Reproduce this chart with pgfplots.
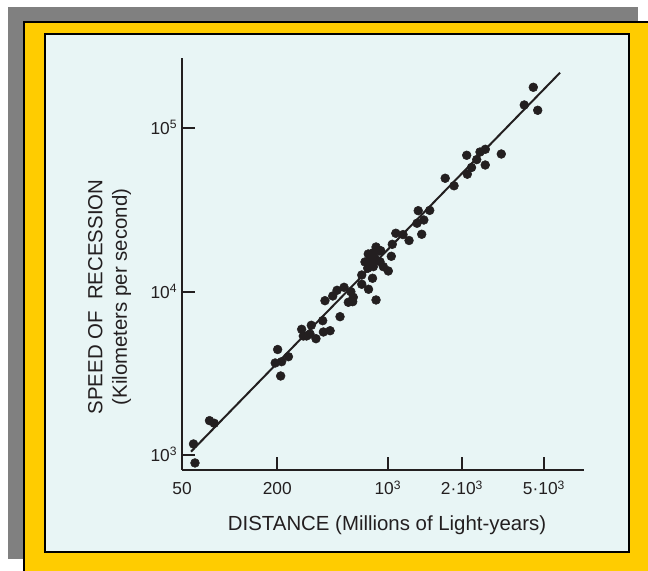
\documentclass[border=0pt]{standalone}
\usepackage{fontspec}
\setmainfont{Liberation Sans}
\usepackage{pgfplots}
\usepackage{pgfplotstable}
\pgfplotsset{compat=1.18}

\definecolor{framegray}{HTML}{808080}
\definecolor{frameyellow}{HTML}{FFCC00}
\definecolor{panelcyan}{HTML}{E8F5F5}
\definecolor{ink}{HTML}{231F20}

% distance (millions of light-years), speed (km/s)
\pgfplotstableread{
dist speed
8283 178650
7265 139250
8831 129190
3144 68570
5200 69820
4121 74600
3815 71820
3637 64520
3372 57730
3172 52530
4116 59800
2299 49610
2615 44620
1553 31420
1836 31560
1685 27560
1526 26320
1634 22540
1121 22860
1245 22440
1359 20650
1065 19570
1050 16530
1005 13440
751 17080
808 17400
882 17820
770 15690
828 16070
891 15320
745 13960
808 14280
935 14280
790 14980
841 18840
716 15260
900 17890
799 12130
683 12700
683 11150
754 10390
841 8935
528 10680
477 10240
448 9452
583 10040
604 9281
562 8650
599 8724
400 8846
498 7063
387 6675
328 6255
285 5912
391 5691
431 5796
292 5380
322 5533
351 5180
306 5380
201 4447
213 3747
194 3679
235 4019
210 3063
74.6 1633
79.9 1574
59.1 1176
60.4 900
}\hubble

\begin{document}
\begin{tikzpicture}
% frames, in pixels of the reference, origin moved to the axis corner
\begin{scope}[x=0.75pt,y=-0.75pt,shift={(-182,-470)}]
  \fill[framegray] (8,7) rectangle (638,559);
  \filldraw[fill=frameyellow,draw=black,line width=1.5pt] (24,22) rectangle (670,600);
  \filldraw[fill=panelcyan,draw=black,line width=1.5pt] (45,34) rectangle (629,552);
\end{scope}

\begin{axis}[
    at={(0,0)}, anchor=south west,
    scale only axis, width=301.5pt, height=309pt,
    xmode=log, ymode=log,
    xmin=50, xmax=17320, ymin=815, ymax=269900,
    axis lines=left,
    axis line style={-, line width=1.9pt, ink},
    tick align=inside,
    major tick length=10pt,
    tick style={line width=1.5pt, ink},
    minor tick length=0pt,
    minor tick style={draw=none},
    xtick={50,200,1000,2937,9679},
    xticklabels={50,200,10\textsuperscript{3},2·10\textsuperscript{3},5·10\textsuperscript{3}},
    ytick={1000,10000,100000},
    yticklabels={10\textsuperscript{3},10\textsuperscript{4},10\textsuperscript{5}},
    ticklabel style={font=\fontsize{13}{15.6}\selectfont, text=ink},
    xticklabel style={anchor=base, yshift=-18.75pt},
    yticklabel style={anchor=base east, yshift=-4.6pt},
    xlabel={DISTANCE (Millions of Light-years)},
    xlabel style={at={(axis description cs:0.51,0)}, anchor=base, yshift=-45.75pt,
        font=\fontsize{15.3}{18.4}\selectfont, text=ink},
    ylabel={SPEED OF\ \ RECESSION\\(Kilometers per second)},
    ylabel style={at={(axis description cs:-0.18,0.42)}, anchor=center, align=center,
        font=\fontsize{15.3}{18.4}\selectfont, text=ink},
]
\addplot[ink, line width=1.5pt] coordinates {(57.0,1055) (12218,219400)};
\addplot[only marks, mark=*, mark size=3.3pt, ink] table[x=dist, y=speed] {\hubble};
\end{axis}

\begin{scope}[x=0.75pt,y=-0.75pt,shift={(-182,-470)}]
  \pgfresetboundingbox
  \path[use as bounding box] (0,0) rectangle (648,570);
\end{scope}
\end{tikzpicture}
\end{document}
